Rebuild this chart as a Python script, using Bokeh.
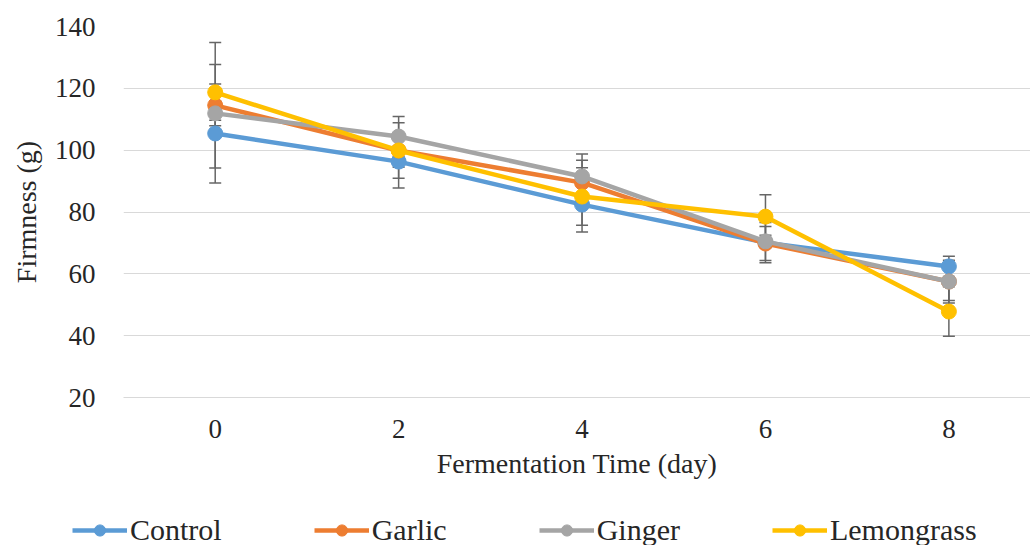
from bokeh.plotting import figure
from bokeh.layouts import column, row
from bokeh.models import Legend, LegendItem, Range1d, FixedTicker, ColumnDataSource
from bokeh.embed import file_html
from bokeh.resources import INLINE

days = [0, 2, 4, 6, 8]
series_names = ["Control", "Garlic", "Ginger", "Lemongrass"]
control = [105.4, 96.3, 82.4, 70.1, 62.4]
control_err = [16.0, 8.5, 8.9, 6.5, 3.3]
garlic = [114.5, 99.9, 89.5, 69.8, 57.5]
garlic_err = [20.3, 9.0, 7.2, 5.5, 6.9]
ginger = [111.9, 104.4, 91.5, 70.5, 57.5]
ginger_err = [4.0, 6.5, 7.3, 2.0, 6.1]
lemongrass = [118.7, 99.9, 85.0, 78.5, 47.8]
lemongrass_err = [9.0, 5.4, 9.3, 7.1, 8.0]
y_ticks = [20, 40, 60, 80, 100, 120, 140]
x_ticks = [0, 2, 4, 6, 8]

colors = ["#5B9BD5", "#ED7D31", "#A5A5A5", "#FFC000"]
values = [control, garlic, ginger, lemongrass]
errors = [control_err, garlic_err, ginger_err, lemongrass_err]

FONT = "Liberation Serif"
TXT = "#262626"

p = figure(width=1030, height=500, output_backend="svg", toolbar_location=None,
           x_range=Range1d(-1.0, 8.89), y_range=Range1d(20, 140),
           min_border_left=123, min_border_right=0, min_border_top=26,
           min_border_bottom=103)
p.outline_line_color = None
p.background_fill_color = "white"

# error bars first (behind lines)
for v, e in zip(values, errors):
    lo = [a - b for a, b in zip(v, e)]
    hi = [a + b for a, b in zip(v, e)]
    p.segment(x0=days, y0=lo, x1=days, y1=hi, line_color="#666666", line_width=1.5)
    p.scatter(x=days + days, y=lo + hi, marker="dash", size=12,
              line_color="#666666", line_width=1.5)

for name, v, c in zip(series_names, values, colors):
    src = ColumnDataSource(dict(x=days, y=v))
    p.line("x", "y", source=src, line_color=c, line_width=4.5)
    p.scatter("x", "y", source=src, size=15, fill_color=c, line_color=c)

p.xaxis.ticker = FixedTicker(ticks=x_ticks)
p.yaxis.ticker = FixedTicker(ticks=y_ticks)
p.xgrid.grid_line_color = None
p.ygrid.grid_line_color = "#d9d9d9"
p.ygrid.grid_line_width = 1.2

for ax in (p.xaxis, p.yaxis):
    ax.major_tick_line_color = None
    ax.minor_tick_line_color = None
    ax.major_label_text_font = FONT
    ax.major_label_text_font_size = "27px"
    ax.major_label_text_color = TXT
    ax.axis_label_text_font = FONT
    ax.axis_label_text_font_size = "28px"
    ax.axis_label_text_color = TXT
    ax.axis_label_text_font_style = "normal"

p.xaxis.axis_line_color = "#d9d9d9"
p.xaxis.axis_line_width = 1.2
p.yaxis.axis_line_color = None
p.xaxis.axis_label = "Fermentation Time (day)"
p.yaxis.axis_label = "Firmness (g)"
p.xaxis.major_label_standoff = 16
p.xaxis.axis_label_standoff = 7
p.yaxis.major_label_standoff = 22
p.yaxis.axis_label_standoff = 10

# legend strip below the chart
lg = figure(width=1030, height=45, output_backend="svg", toolbar_location=None,
            x_range=Range1d(0, 1), y_range=Range1d(0, 1),
            min_border_left=0, min_border_right=0, min_border_top=0,
            min_border_bottom=0)
lg.axis.visible = False
lg.grid.visible = False
lg.outline_line_color = None
items = []
for name, c in zip(series_names, colors):
    src = ColumnDataSource(dict(x=[-5.0], y=[-5.0]))
    r1 = lg.line("x", "y", source=src, line_color=c, line_width=4.5)
    r2 = lg.scatter("x", "y", source=src, size=15, fill_color=c, line_color=c)
    items.append(LegendItem(label=name, renderers=[r1, r2]))

legend = Legend(items=items, orientation="horizontal", location=(72, -2),
                label_text_font=FONT, label_text_font_size="30px",
                label_text_color=TXT, glyph_width=55, glyph_height=28,
                label_standoff=3, spacing=92, border_line_color=None,
                background_fill_alpha=0, padding=0, margin=0)
lg.add_layout(legend, "center")

layout = column(p, row(lg, spacing=0), spacing=0)
open("out.html", "w").write(file_html(layout, INLINE))
